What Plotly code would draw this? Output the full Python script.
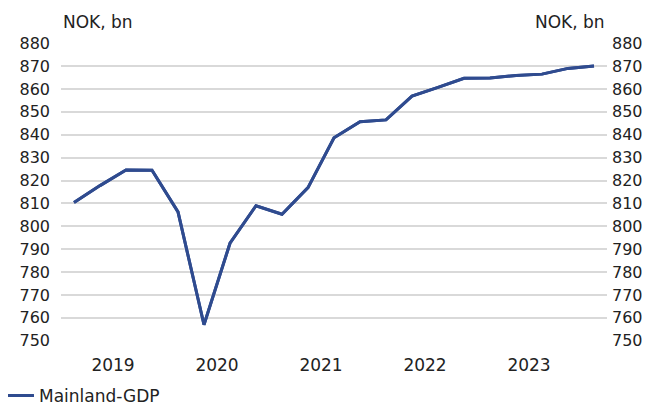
import plotly.graph_objects as go

quarters = ['2019Q1', '2019Q2', '2019Q3', '2019Q4',
            '2020Q1', '2020Q2', '2020Q3', '2020Q4',
            '2021Q1', '2021Q2', '2021Q3', '2021Q4',
            '2022Q1', '2022Q2', '2022Q3', '2022Q4',
            '2023Q1', '2023Q2', '2023Q3', '2023Q4',
            '2024Q1']
gdp = [810.4, 817.8, 824.6, 824.5,
       806.3, 757.0, 792.6, 809.0,
       805.3, 816.9, 838.7, 845.7,
       846.5, 856.9, 860.7, 864.7,
       864.8, 865.9, 866.5, 869.0,
       870.1]
year_labels = ['2019', '2020', '2021', '2022', '2023']
y_ticks = list(range(750, 890, 10))

colors = {
    'line': '#2f4b8f',
    'grid': '#d9d9d9',
    'text': '#222222'
}

x = list(range(len(quarters)))
year_pos = [quarters.index(y + 'Q1') + 1.5 for y in year_labels]

fig = go.Figure()
fig.add_trace(go.Scatter(
    x=x, y=gdp, name='Mainland-GDP', mode='lines',
    line=dict(color=colors['line'], width=3)
))
# same series on the right axis so it is drawn
fig.add_trace(go.Scatter(
    x=x, y=gdp, yaxis='y2', mode='lines', showlegend=False,
    hoverinfo='skip', line=dict(color=colors['line'], width=3)
))

# page body has an 8px margin, so the figure is a bit smaller than the window
fig.update_layout(
    width=646, height=397,
    margin=dict(l=53, r=47, t=35, b=64, autoexpand=False),
    paper_bgcolor='white',
    plot_bgcolor='white',
    font=dict(family='DejaVu Sans', size=16, color=colors['text']),
    xaxis=dict(range=[-0.5, len(quarters) - 0.5], tickvals=year_pos,
               ticktext=year_labels, showgrid=False, zeroline=False,
               ticks='', ticklabelstandoff=12, automargin=False,
               tickfont=dict(size=17)),
    yaxis=dict(range=[749.9, 880.1], tickvals=y_ticks, showgrid=True,
               gridcolor=colors['grid'], gridwidth=1.5, zeroline=False,
               ticks='', ticklabelstandoff=10, automargin=False),
    yaxis2=dict(range=[749.9, 880.1], tickvals=y_ticks, overlaying='y',
                side='right', showgrid=False, zeroline=False, ticks='',
                ticklabelstandoff=4, automargin=False),
    showlegend=True,
    legend=dict(orientation='h', x=-0.1136, y=-0.124, xanchor='left',
                yanchor='top', itemwidth=30, font=dict(size=17),
                bgcolor='rgba(0,0,0,0)'),
    annotations=[
        dict(text='NOK, bn', x=0, y=1.03, xref='paper', yref='paper',
             xanchor='left', yanchor='bottom', showarrow=False,
             font=dict(size=17)),
        dict(text='NOK, bn', x=1, y=1.03, xref='paper', yref='paper',
             xanchor='right', yanchor='bottom', showarrow=False,
             font=dict(size=17)),
    ]
)

fig.write_html("out.html")
